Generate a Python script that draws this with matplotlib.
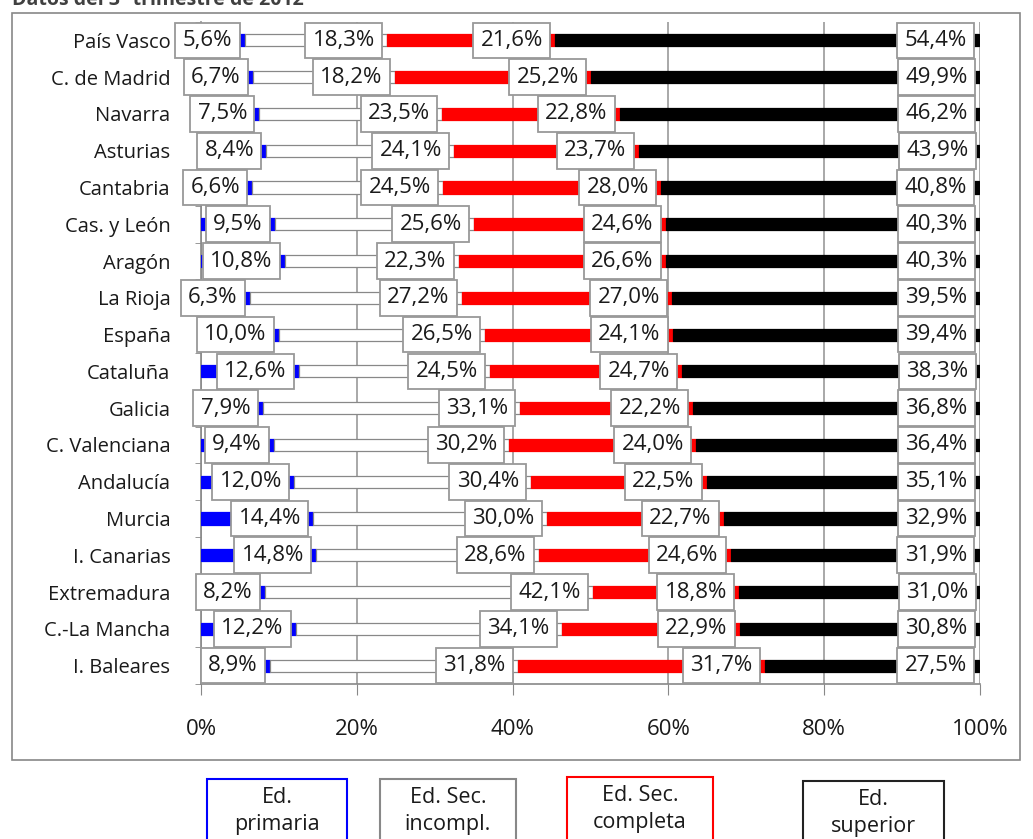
import matplotlib.pyplot as plt
from matplotlib.patches import Rectangle
from matplotlib.ticker import FixedLocator

regions = ['País Vasco', 'C. de Madrid', 'Navarra', 'Asturias', 'Cantabria',
           'Cas. y León', 'Aragón', 'La Rioja', 'España', 'Cataluña', 'Galicia',
           'C. Valenciana', 'Andalucía', 'Murcia', 'I. Canarias', 'Extremadura',
           'C.-La Mancha', 'I. Baleares']
primaria = [5.6, 6.7, 7.5, 8.4, 6.6, 9.5, 10.8, 6.3, 10.0, 12.6, 7.9, 9.4, 12.0,
            14.4, 14.8, 8.2, 12.2, 8.9]
sec_incompl = [18.3, 18.2, 23.5, 24.1, 24.5, 25.6, 22.3, 27.2, 26.5, 24.5, 33.1,
               30.2, 30.4, 30.0, 28.6, 42.1, 34.1, 31.8]
sec_completa = [21.6, 25.2, 22.8, 23.7, 28.0, 24.6, 26.6, 27.0, 24.1, 24.7, 22.2,
                24.0, 22.5, 22.7, 24.6, 18.8, 22.9, 31.7]
superior = [54.4, 49.9, 46.2, 43.9, 40.8, 40.3, 40.3, 39.5, 39.4, 38.3, 36.8,
            36.4, 35.1, 32.9, 31.9, 31.0, 30.8, 27.5]
series_names = ['Ed.\nprimaria', 'Ed. Sec.\nincompl.', 'Ed. Sec.\ncompleta', 'Ed.\nsuperior']

plt.rcParams['font.family'] = ['Open Sans', 'DejaVu Sans']

fig = plt.figure(figsize=(10.33, 8.39), dpi=100)
W, H = 1033, 839

# outer chart frame
fig.patches.append(Rectangle((12 / W, 1 - 760 / H), 1008 / W, 747 / H,
                             transform=fig.transFigure, fill=False,
                             edgecolor='#888888', lw=1.2))

ax = fig.add_axes([201 / W, 1 - 684 / H, 779 / W, 662 / H])

y = list(range(len(regions)))
fills = ['#0000ff', 'white', '#ff0000', 'black']
edges = ['#0000ff', '#888888', '#ff0000', 'black']
data = [primaria, sec_incompl, sec_completa, superior]

left = [0.0] * len(regions)
for vals, fc, ec in zip(data, fills, edges):
    ax.barh(y, vals, left=left, height=0.33, color=fc, edgecolor=ec, lw=0.9, zorder=3)
    left = [l + v for l, v in zip(left, vals)]
    for yi, end, v in zip(y, left, vals):
        ax.annotate(f'{v:.1f}%'.replace('.', ','), xy=(end, yi), xytext=(-8.9, 0),
                    textcoords='offset points', ha='right', va='center',
                    fontsize=16, color='#1a1a1a', zorder=5, annotation_clip=False,
                    bbox=dict(boxstyle='square,pad=0.33', fc='white',
                              ec='#999999', lw=1.3))

ax.set_xlim(0, 100)
ax.set_ylim(len(regions) - 0.5, -0.5)
ax.set_xticks([0, 20, 40, 60, 80, 100])
ax.set_xticklabels(['0%', '20%', '40%', '60%', '80%', '100%'])
ax.set_yticks(y)
ax.set_yticklabels(regions)
ax.yaxis.set_minor_locator(FixedLocator([i - 0.5 for i in range(len(regions) + 1)]))
ax.tick_params(axis='y', which='major', length=0, pad=22, labelsize=14.5,
               labelcolor='#1a1a1a')
ax.tick_params(axis='y', which='minor', length=4, color='#888888')
ax.tick_params(axis='x', length=8, color='#888888', pad=17, labelsize=16,
               labelcolor='#1a1a1a')
ax.grid(axis='x', color='#999999', lw=1.2, zorder=0)
for s in ['top', 'right']:
    ax.spines[s].set_visible(False)
for s in ['left', 'bottom']:
    ax.spines[s].set_color('#888888')
    ax.spines[s].set_linewidth(1.2)

fig.text(12 / W, 1.0, 'Datos del 3º trimestre de 2012', ha='left', va='center',
         fontsize=14, fontweight='bold', color='#404040')

# legend boxes along the bottom
box_x = [207, 380, 567, 803]
box_w = [140, 136, 146, 141]
box_top = [779, 779, 777, 781]
legend_edges = ['#0000ff', '#888888', '#ff0000', '#222222']
for name, bx, bw, bt, ec in zip(series_names, box_x, box_w, box_top, legend_edges):
    fig.patches.append(Rectangle((bx / W, -0.05), bw / W, (H - bt) / H + 0.05,
                                 transform=fig.transFigure, fc='white',
                                 ec=ec, lw=1.5))
    fig.text((bx + bw / 2) / W, 1 - (bt + 32) / H, name, ha='center', va='center',
             fontsize=15.5, linespacing=1.4, color='#1a1a1a')

fig.savefig('out.png', dpi=100)
